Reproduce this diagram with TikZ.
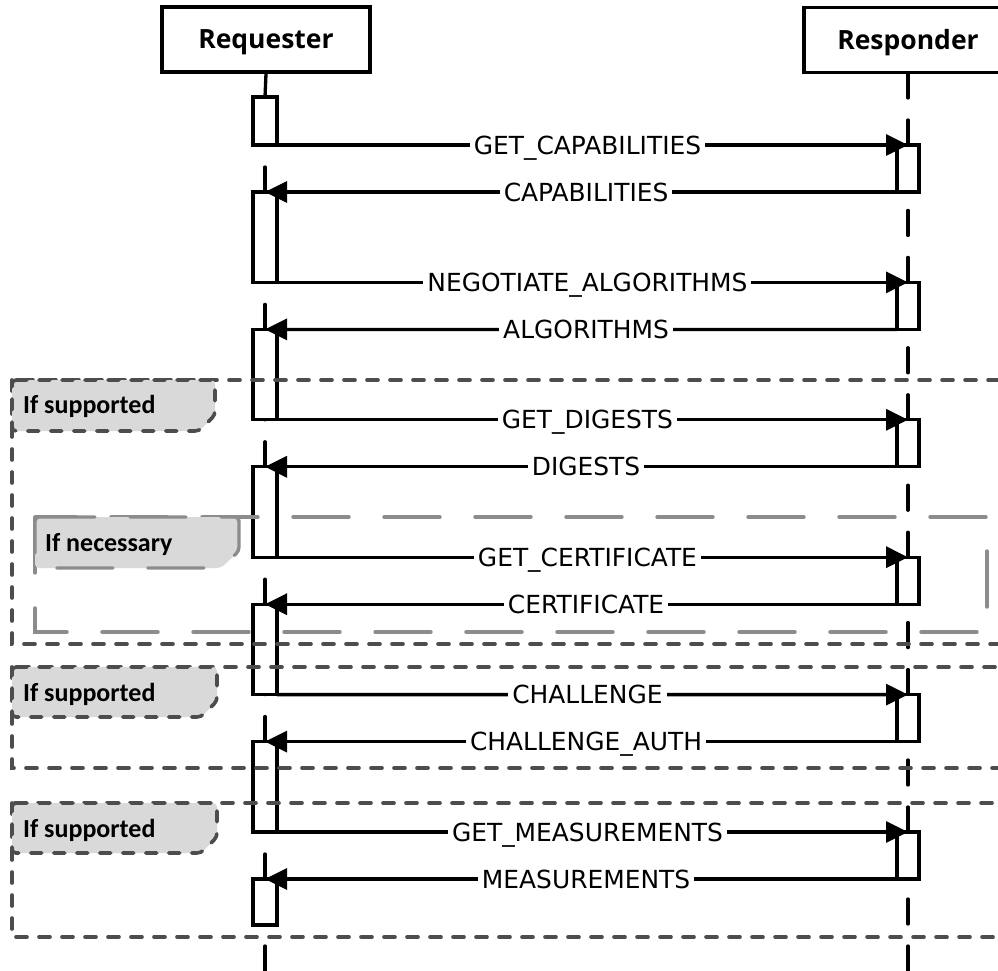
\documentclass[tikz,border=0pt]{standalone}
\usepackage{fontspec}
\setmainfont{Open Sans}
\newfontfamily\tagfont{Carlito}
\newfontfamily\msgfont{DejaVu Sans}
\usetikzlibrary{arrows.meta}
\definecolor{framegray}{HTML}{4D4D4D}
\definecolor{innergray}{HTML}{8C8C8C}
\definecolor{tagfill}{HTML}{D9D9D9}
\pgfdeclarelayer{back}
\pgfsetlayers{back,main}

\begin{document}
\begin{tikzpicture}[x=1pt,y=-1pt,
  hdr/.style={draw,line width=3.3pt,minimum width=208pt,minimum height=65pt,inner sep=0pt,
    font=\fontsize{26.5}{30}\selectfont\bfseries,text height=18.5pt,text depth=0pt},
  act/.style={draw,fill=white,line width=3.3pt,inner sep=0pt,outer sep=0pt},
  rqbox/.style={act,minimum width=24pt},
  rsbox/.style={act,minimum width=22pt,minimum height=47pt},
  life/.style={line width=3.3pt,dash pattern=on 25pt off 22pt,line cap=round},
  msg/.style={line width=3.3pt,-{Triangle[length=22pt,width=21pt]}},
  lbl/.style={fill=white,inner xsep=4pt,inner ysep=2pt,font=\msgfont\fontsize{24.9}{28}\selectfont,
    anchor=base,yshift=-9pt,pos=0.492},
  frame/.style={draw=framegray,line width=3.6pt,dash pattern=on 11pt off 12pt,line cap=round},
  innerframe/.style={draw=innergray,line width=3.4pt,dash pattern=on 56pt off 35pt,line cap=round},
  tagtext/.style={font=\tagfont\fontsize{26}{30}\selectfont\bfseries,anchor=base west,inner sep=0pt}
]
\useasboundingbox (0,0) rectangle (998,971);
\clip (0,0) rectangle (998,971);

% participants
\node[hdr] (req) at (266,39.5) {Requester};
\node[hdr] (resp) at (908,40) {Responder};
\coordinate (reqend) at (265,971);
\coordinate (respend) at (908,971);

% requester activations
\node[rqbox,minimum height=48pt]   (rq1) at (265,121) {};
\node[rqbox,minimum height=90.4pt] (rq2) at (265,237.2) {};
\node[rqbox,minimum height=90.4pt] (rq3) at (265,374.6) {};
\node[rqbox,minimum height=90.4pt] (rq4) at (265,512) {};
\node[rqbox,minimum height=90.4pt] (rq5) at (265,649.4) {};
\node[rqbox,minimum height=90.4pt] (rq6) at (265,786.8) {};
\node[rqbox,minimum height=46pt]   (rq7) at (265,902) {};

% responder activations
\node[rsbox] (rs1) at (908,168.5) {};
\node[rsbox] (rs2) at (908,305.9) {};
\node[rsbox] (rs3) at (908,443.3) {};
\node[rsbox] (rs4) at (908,580.7) {};
\node[rsbox] (rs5) at (908,718.1) {};
\node[rsbox] (rs6) at (908,855.5) {};

% lifelines, behind the activations
\begin{pgfonlayer}{back}
\draw[life] (rq1.north) -- (req.south);
\foreach \a/\b in {2/1,3/2,4/3,5/4,6/5,7/6} \draw[life] (rq\a.north) -- (rq\b.south);
\draw[life] (reqend) -- (rq7.south);
\draw[life] (rs1.north) -- (resp.south);
\foreach \a/\b in {2/1,3/2,4/3,5/4,6/5} \draw[life] (rs\a.north) -- (rs\b.south);
\draw[life] (respend) -- (rs6.south);
\end{pgfonlayer}

% messages
\draw[msg] (rq1.south east) -- node[lbl] {GET\_CAPABILITIES} (rs1.north);
\draw[msg] (rs1.south west) -- node[lbl] {CAPABILITIES} (rq2.north);
\draw[msg] (rq2.south east) -- node[lbl] {NEGOTIATE\_ALGORITHMS} (rs2.north);
\draw[msg] (rs2.south west) -- node[lbl] {ALGORITHMS} (rq3.north);
\draw[msg] (rq3.south east) -- node[lbl] {GET\_DIGESTS} (rs3.north);
\draw[msg] (rs3.south west) -- node[lbl] {DIGESTS} (rq4.north);
\draw[msg] (rq4.south east) -- node[lbl] {GET\_CERTIFICATE} (rs4.north);
\draw[msg] (rs4.south west) -- node[lbl] {CERTIFICATE} (rq5.north);
\draw[msg] (rq5.south east) -- node[lbl] {CHALLENGE} (rs5.north);
\draw[msg] (rs5.south west) -- node[lbl] {CHALLENGE\_AUTH} (rq6.north);
\draw[msg] (rq6.south east) -- node[lbl] {GET\_MEASUREMENTS} (rs6.north);
\draw[msg] (rs6.south west) -- node[lbl] {MEASUREMENTS} (rq7.north);

% optional fragments
\path[frame] (12,380) rectangle (1012,644);
\path[frame] (12,667) rectangle (1012,768);
\path[frame] (12,803) rectangle (1012,937);
\path[innerframe] (35,517) rectangle (987,632);

% fragment tags
\path[frame,fill=tagfill,rounded corners=4pt] (12,380) -- (215,380) -- (215,415) -- (199,431) -- (12,431) -- cycle;
\path[frame,fill=tagfill,rounded corners=4pt] (12,667) -- (217,667) -- (217,701) -- (201,717) -- (12,717) -- cycle;
\path[frame,fill=tagfill,rounded corners=4pt] (12,803) -- (217,803) -- (217,837) -- (201,853) -- (12,853) -- cycle;
\path[innerframe,fill=tagfill,rounded corners=4pt] (35,517) -- (239,517) -- (239,551) -- (221,568) -- (35,568) -- cycle;

\node[tagtext] (tag1) at (23,413) {If supported};
\node[tagtext] (tag2) at (23,701) {If supported};
\node[tagtext] (tag3) at (23,837) {If supported};
\node[tagtext] (tag4) at (45,551) {If necessary};
\end{tikzpicture}
\end{document}
